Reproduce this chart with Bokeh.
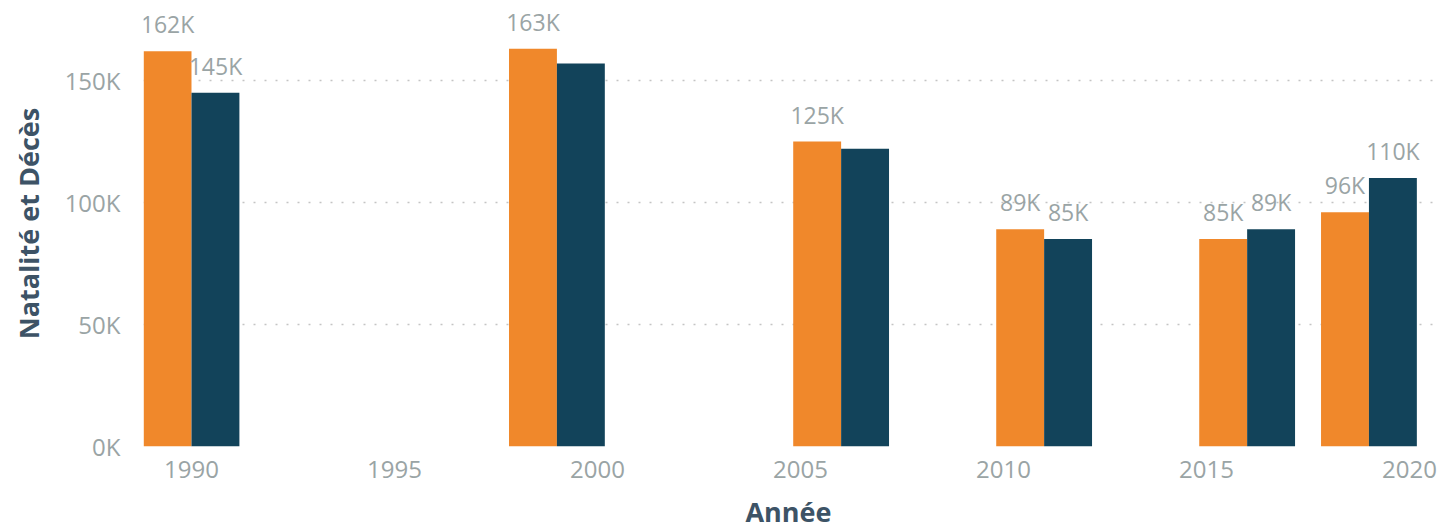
from bokeh.plotting import figure
from bokeh.models import ColumnDataSource, Range1d, FixedTicker
from bokeh.core.properties import value
from bokeh.embed import file_html
from bokeh.resources import INLINE

# --- data ---
years = [1990, 1999, 2006, 2011, 2016, 2019]
naissances = [162000, 163000, 125000, 89000, 85000, 96000]
deces = [145000, 157000, 122000, 85000, 89000, 110000]
labels_naissances = ["162K", "163K", "125K", "89K", "85K", "96K"]
labels_deces = ["145K", "", "", "85K", "89K", "110K"]
y_ticks = [0, 50000, 100000, 150000]
y_tick_labels = ["0K", "50K", "100K", "150K"]
x_ticks = [1990, 1995, 2000, 2005, 2010, 2015, 2020]

ORANGE = "#F0882B"
TEAL = "#12435A"
GREY_TXT = "#9AA4A5"
TITLE_COL = "#3D5366"
FONT = "Open Sans"

bw = 1.18
src_n = ColumnDataSource(dict(x=[y - bw / 2 for y in years], top=naissances, lab=labels_naissances))
src_d = ColumnDataSource(dict(x=[y + bw / 2 for y in years], top=deces, lab=labels_deces))

p = figure(width=1438, height=532, output_backend="svg", toolbar_location=None,
           x_range=Range1d(1988.818, 2020.59), y_range=Range1d(0, 182800),
           min_border_left=143, min_border_right=5, min_border_top=0, min_border_bottom=86)
p.outline_line_color = None
p.background_fill_color = "white"

p.vbar(x="x", top="top", width=bw, source=src_n, fill_color=ORANGE, line_color=None)
p.vbar(x="x", top="top", width=bw, source=src_d, fill_color=TEAL, line_color=None)

for src in (src_n, src_d):
    p.text(x="x", y="top", text="lab", source=src, text_align="center",
           text_baseline="alphabetic", y_offset=-27, text_color=GREY_TXT,
           text_font=value(FONT), text_font_size="23px")

# axes
p.xaxis.ticker = FixedTicker(ticks=x_ticks)
p.yaxis.ticker = FixedTicker(ticks=y_ticks)
p.yaxis.major_label_overrides = {t: l for t, l in zip(y_ticks, y_tick_labels)}
for ax in (p.xaxis, p.yaxis):
    ax.axis_line_color = None
    ax.major_tick_line_color = None
    ax.minor_tick_line_color = None
    ax.major_tick_out = 0
    ax.major_tick_in = 0
    ax.minor_tick_out = 0
    ax.major_label_text_color = GREY_TXT
    ax.major_label_text_font = FONT
    ax.major_label_text_font_size = "24px"
    ax.axis_label_text_color = TITLE_COL
    ax.axis_label_text_font = FONT
    ax.axis_label_text_font_size = "27px"
    ax.axis_label_text_font_style = "bold"
p.xaxis.axis_label = "Année"
p.yaxis.axis_label = "Natalité et Décès"
p.xaxis.major_label_standoff = 14
p.yaxis.major_label_standoff = 23
p.xaxis.axis_label_standoff = 12
p.yaxis.axis_label_standoff = 15

p.xgrid.grid_line_color = None
p.ygrid.ticker = FixedTicker(ticks=y_ticks)
p.ygrid.grid_line_color = "#C4C4C4"
p.ygrid.grid_line_dash = "2 9"
p.ygrid.grid_line_width = 1.5

open("out.html", "w").write(file_html(p, INLINE))
